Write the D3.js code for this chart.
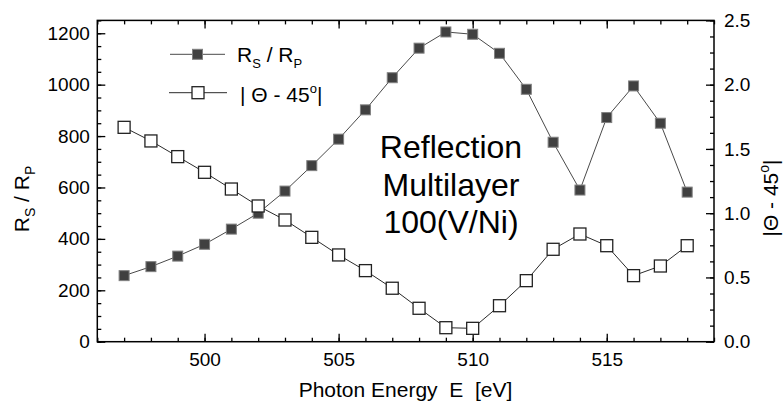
<!DOCTYPE html>
<html><head><meta charset="utf-8">
<script src="https://cdn.jsdelivr.net/npm/d3@7"></script>
<style>
html,body{margin:0;padding:0;background:#fff;}
svg text{font-family:Arial,"Liberation Sans",Helvetica,sans-serif;fill:#000;}
</style></head>
<body>
<svg id="chart" width="783" height="403"></svg>
<script>
const energy = [497,498,499,500,501,502,503,504,505,506,507,508,509,510,511,512,513,514,515,516,517,518];
const ratioRsRp = [257,292,333,379,438,500,586,685,788,902,1027,1142,1205,1196,1122,982,776,590,872,995,850,582];
const thetaDev = [1.668,1.562,1.44,1.318,1.188,1.056,0.947,0.812,0.675,0.553,0.416,0.26,0.109,0.104,0.28,0.475,0.719,0.838,0.747,0.514,0.589,0.747];
const xTicks = [500,505,510,515];
const yLeftTicks = [0,200,400,600,800,1000,1200];
const yRightTicks = [0,0.5,1.0,1.5,2.0,2.5];
const titleLines = ["Reflection","Multilayer","100(V/Ni)"];

const svg = d3.select("#chart");
const L = 97.3, R = 714, T = 20.4, B = 341.7;
const x = d3.scaleLinear().domain([496,519]).range([L,R]);
const yL = d3.scaleLinear().domain([0,1250]).range([B,T]);
const yR = d3.scaleLinear().domain([0,2.5]).range([B,T]);

const fs = 19;
function styleAxis(g){
  g.select(".domain").remove();
  g.selectAll(".tick line").attr("stroke","#000").attr("stroke-width",1.3);
  g.selectAll(".tick text").style("font-size",fs+"px").attr("fill","#000");
}
const xMinor = d3.range(496,520,1);
const yLMinor = d3.range(0,1251,50);
const yRMinor = d3.range(0,2.51,0.125);

// bottom
svg.append("g").attr("transform",`translate(0,${B})`)
  .call(d3.axisBottom(x).tickValues(xMinor).tickSizeInner(-4).tickSizeOuter(0).tickFormat("")).call(styleAxis);
svg.append("g").attr("transform",`translate(0,${B})`)
  .call(d3.axisBottom(x).tickValues(xTicks).tickSizeInner(-8).tickSizeOuter(0).tickPadding(11).tickFormat(d3.format("d"))).call(styleAxis);
// top
svg.append("g").attr("transform",`translate(0,${T})`)
  .call(d3.axisTop(x).tickValues(xMinor).tickSizeInner(-4).tickSizeOuter(0).tickFormat("")).call(styleAxis);
svg.append("g").attr("transform",`translate(0,${T})`)
  .call(d3.axisTop(x).tickValues(xTicks).tickSizeInner(-8).tickSizeOuter(0).tickFormat("")).call(styleAxis);
// left
svg.append("g").attr("transform",`translate(${L},0)`)
  .call(d3.axisLeft(yL).tickValues(yLMinor).tickSizeInner(-4).tickSizeOuter(0).tickFormat("")).call(styleAxis);
svg.append("g").attr("transform",`translate(${L},0)`)
  .call(d3.axisLeft(yL).tickValues(yLeftTicks).tickSizeInner(-8).tickSizeOuter(0).tickPadding(7.5).tickFormat(d3.format("d"))).call(styleAxis);
// right
svg.append("g").attr("transform",`translate(${R},0)`)
  .call(d3.axisRight(yR).tickValues(yRMinor).tickSizeInner(-4).tickSizeOuter(0).tickFormat("")).call(styleAxis);
svg.append("g").attr("transform",`translate(${R},0)`)
  .call(d3.axisRight(yR).tickValues(yRightTicks).tickSizeInner(-8).tickSizeOuter(0).tickPadding(10).tickFormat(d3.format(".1f"))).call(styleAxis);

// frame
svg.append("rect").attr("x",L).attr("y",T).attr("width",R-L).attr("height",B-T)
  .attr("fill","none").attr("stroke","#000").attr("stroke-width",1.5);

// series 1: filled squares
const d1 = energy.map((e,i)=>[e,ratioRsRp[i]]);
const d2 = energy.map((e,i)=>[e,thetaDev[i]]);
svg.append("path").datum(d1).attr("fill","none").attr("stroke","#4a4a4a").attr("stroke-width",1)
  .attr("d",d3.line().x(d=>x(d[0])).y(d=>yL(d[1])));
const s1 = 10;
svg.append("g").selectAll("rect").data(d1).join("rect")
  .attr("x",d=>x(d[0])-s1/2).attr("y",d=>yL(d[1])-s1/2).attr("width",s1).attr("height",s1)
  .attr("fill","#404040").attr("stroke","#808080").attr("stroke-width",1);
// series 2: open squares
svg.append("path").datum(d2).attr("fill","none").attr("stroke","#2a2a2a").attr("stroke-width",1)
  .attr("d",d3.line().x(d=>x(d[0])).y(d=>yR(d[1])));
const s2 = 12;
svg.append("g").selectAll("rect").data(d2).join("rect")
  .attr("x",d=>x(d[0])-s2/2).attr("y",d=>yR(d[1])-s2/2).attr("width",s2).attr("height",s2)
  .attr("fill","#fff").attr("stroke","#222").attr("stroke-width",1.3);

// legend
const lg = svg.append("g");
lg.append("line").attr("x1",170).attr("x2",225).attr("y1",54.3).attr("y2",54.3).attr("stroke","#4a4a4a");
lg.append("rect").attr("x",197.5-s1/2).attr("y",54.3-s1/2).attr("width",s1).attr("height",s1)
  .attr("fill","#404040").attr("stroke","#808080");
lg.append("line").attr("x1",169).attr("x2",227).attr("y1",92.7).attr("y2",92.7).attr("stroke","#2a2a2a");
lg.append("rect").attr("x",198-s2/2).attr("y",92.7-s2/2).attr("width",s2).attr("height",s2)
  .attr("fill","#fff").attr("stroke","#222").attr("stroke-width",1.3);
const t1 = lg.append("text").attr("x",237).attr("y",61.7).style("font-size","21px");
t1.append("tspan").text("R");
t1.append("tspan").attr("dy",6).style("font-size","13px").text("S");
t1.append("tspan").attr("dy",-6).text(" / R");
t1.append("tspan").attr("dy",6).style("font-size","13px").text("P");
const t2 = lg.append("text").attr("x",240).attr("y",101.7).style("font-size","21px");
t2.append("tspan").text("| \u0398 - 45");
t2.append("tspan").attr("dy",-9).style("font-size","13px").text("o");
t2.append("tspan").attr("dy",9).text("|");

// title
svg.append("g").selectAll("text").data(titleLines).join("text")
  .attr("x",451).attr("y",(d,i)=>158.3+i*37.2).attr("text-anchor","middle")
  .style("font-size","32px").text(d=>d);

// axis titles
svg.append("text").attr("x",405.5).attr("y",397).attr("text-anchor","middle")
  .style("font-size","21px").attr("xml:space","preserve").text("Photon Energy  E  [eV]");
const ly = svg.append("text").attr("transform","translate(28.5,199) rotate(-90)")
  .attr("text-anchor","middle").style("font-size","21px");
ly.append("tspan").text("R");
ly.append("tspan").attr("dy",6).style("font-size","14px").text("S");
ly.append("tspan").attr("dy",-6).text(" / R");
ly.append("tspan").attr("dy",6).style("font-size","14px").text("P");
const ry = svg.append("text").attr("transform","translate(778,198) rotate(-90)")
  .attr("text-anchor","middle").style("font-size","21px");
ry.append("tspan").text("|\u0398 - 45");
ry.append("tspan").attr("dy",-9).style("font-size","14px").text("o");
ry.append("tspan").attr("dy",9).text("|");
</script>
</body></html>
